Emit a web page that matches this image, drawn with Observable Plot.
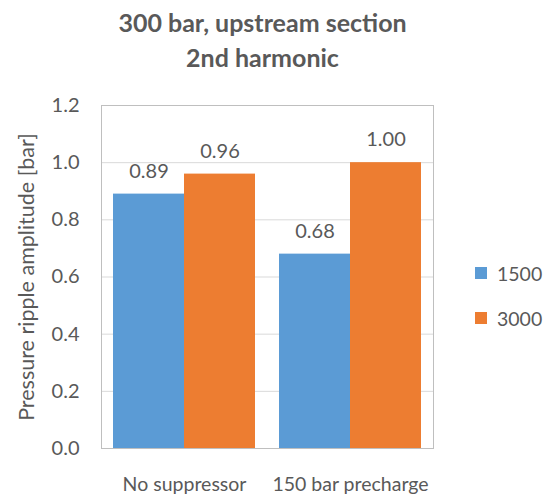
<!DOCTYPE html>
<html>
<head>
<meta charset="utf-8">
<script src="https://cdn.jsdelivr.net/npm/d3@7"></script>
<script src="https://cdn.jsdelivr.net/npm/@observablehq/plot@0.6"></script>
<style>
  body { margin: 0; background: #fff; font-family: Lato, "Open Sans", sans-serif; }
  #wrap { position: relative; width: 545px; height: 497px; }
  #title { position: absolute; left: 0; top: 5px; width: 525px; text-align: center; color: #595959; font-weight: bold; font-size: 25px; line-height: 35px; }
  #legend { position: absolute; left: 475px; top: 262px; color: #595959; font-size: 19.5px; }
  .sw { display: flex; align-items: center; height: 22px; margin-bottom: 23px; }
  .sw span.box { width: 12px; height: 12px; margin-right: 10px; display: inline-block; }
</style>
</head>
<body>
<div id="wrap">
  <div id="title"></div>
  <div id="chart"></div>
  <div id="legend"></div>
</div>
<script>
const titleLines = ["300 bar, upstream section", "2nd harmonic"];
const categories = ["No suppressor", "150 bar precharge"];
const seriesNames = ["1500", "3000"];
const values1500 = [0.89, 0.68];
const values3000 = [0.96, 1.00];
const colors = ["#5B9BD5", "#ED7D31"];
const yTicks = [0, 0.2, 0.4, 0.6, 0.8, 1.0, 1.2];
const yLabel = "Pressure ripple amplitude [bar]";

const data = [];
categories.forEach((c, i) => {
  data.push({category: c, series: seriesNames[0], value: values1500[i]});
  data.push({category: c, series: seriesNames[1], value: values3000[i]});
});

document.getElementById("title").innerHTML = titleLines.join("<br>");

const chart = Plot.plot({
  width: 545,
  height: 497,
  marginTop: 105,
  marginBottom: 49,
  marginLeft: 100,
  marginRight: 112,
  style: {fontFamily: "Lato, 'Open Sans', sans-serif", color: "#595959", fontSize: "20px", background: "#fff"},
  fx: {domain: categories, padding: 0, label: null, axis: null},
  x: {domain: seriesNames, paddingInner: 0, paddingOuter: 0.164, axis: null},
  y: {domain: [0, 1.2], ticks: yTicks, tickFormat: d3.format(".1f"), tickSize: 0, tickPadding: 22, label: null},
  color: {domain: seriesNames, range: colors},
  marks: [
    Plot.gridY(yTicks, {stroke: "#D9D9D9", strokeOpacity: 1}),
    Plot.frame({facet: "super", stroke: "#BFBFBF"}),
    Plot.axisFx({anchor: "bottom", tickSize: 0, tickPadding: 29, fontSize: 19.5, label: null}),
    Plot.barY(data, {fx: "category", x: "series", y: "value", fill: "series"}),
    Plot.text(data, {fx: "category", x: "series", y: "value", text: d => d.value.toFixed(2), dy: -23, fill: "#595959", fontSize: 20}),
    Plot.text([yLabel], {frameAnchor: "left", textAnchor: "middle", facet: "super", rotate: -90, dx: -74, fontSize: 21.5, fill: "#595959"})
  ]
});
document.getElementById("chart").appendChild(chart);

const legend = document.getElementById("legend");
seriesNames.forEach((s, i) => {
  const row = document.createElement("div");
  row.className = "sw";
  row.innerHTML = `<span class="box" style="background:${colors[i]}"></span><span>${s}</span>`;
  legend.appendChild(row);
});
</script>
</body>
</html>
